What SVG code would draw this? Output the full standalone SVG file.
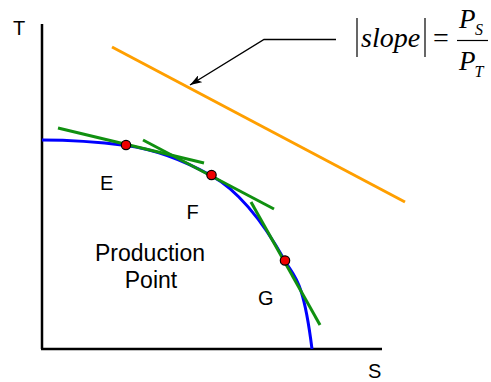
<svg xmlns="http://www.w3.org/2000/svg" width="491" height="382" viewBox="0 0 491 382">
<style>
.lbl{font-family:"Liberation Sans",Arial,sans-serif;font-size:20px;fill:#000}
.big{font-family:"Liberation Sans",Arial,sans-serif;font-size:23px;fill:#000}
.m{font-family:"Liberation Serif","Times New Roman",serif;font-style:italic;fill:#000}
.tan{stroke:#109010;stroke-width:3;fill:none}
.dot{fill:#ee0000;stroke:#000;stroke-width:1.2}
</style>
<defs>
<marker id="ah" viewBox="0 0 12 8" refX="12" refY="4" markerWidth="12" markerHeight="8" markerUnits="userSpaceOnUse" orient="auto">
<path d="M0,0 L12,4 L0,8 L3,4 Z" fill="#000"/>
</marker>
</defs>
<g id="axes">
<line x1="42" y1="24" x2="42" y2="349" stroke="#000" stroke-width="2.5"/>
<line x1="41" y1="349" x2="382" y2="349" stroke="#000" stroke-width="2.5"/>
<text class="lbl" x="13" y="35">T</text>
<text class="lbl" x="368" y="378">S</text>
</g>
<g id="budget-line">
<line x1="112" y1="47" x2="405" y2="202" stroke="#ff9f00" stroke-width="3"/>
</g>
<g id="frontier">
<path d="M42,140 C70,140 98,141.9 126,145.5 C154.3,149.2 182.7,159.9 211,175.5 C235.7,189.1 260.3,216.6 285,261 C294,277.2 303,277 312,349" fill="none" stroke="#0000ff" stroke-width="3"/>
</g>
<g id="connectors">
<line class="tan" x1="58" y1="128" x2="204" y2="163"/>
<line class="tan" x1="143" y1="140" x2="274" y2="209"/>
<line class="tan" x1="251" y1="202" x2="320" y2="325"/>
<polyline points="336,39.5 264,39.5 190,85" fill="none" stroke="#000" stroke-width="1.4" marker-end="url(#ah)"/>
</g>
<g id="point-E">
<circle class="dot" cx="126" cy="145" r="4.7"/>
<text class="lbl" x="100" y="189.5">E</text>
</g>
<g id="point-F">
<circle class="dot" cx="211.5" cy="175" r="4.7"/>
<text class="lbl" x="186.5" y="219">F</text>
</g>
<g id="point-G">
<circle class="dot" cx="285" cy="260.5" r="4.7"/>
<text class="lbl" x="258" y="305">G</text>
</g>
<g id="production-point">
<text class="big" x="150" y="260.5" text-anchor="middle">Production</text>
<text class="big" x="151" y="287.5" text-anchor="middle">Point</text>
</g>
<g id="equation">
<line x1="357" y1="18" x2="357" y2="57" stroke="#000" stroke-width="1.2"/>
<line x1="425" y1="18" x2="425" y2="57" stroke="#000" stroke-width="1.2"/>
<text class="m" x="361" y="47" font-size="28">slope</text>
<text x="433" y="47" font-size="28" font-family="'Liberation Serif','Times New Roman',serif">=</text>
<line x1="457" y1="40.5" x2="488" y2="40.5" stroke="#000" stroke-width="1.2"/>
<text class="m" x="459" y="28" font-size="27">P</text>
<text class="m" x="475" y="35" font-size="16">S</text>
<text class="m" x="459" y="70" font-size="27">P</text>
<text class="m" x="474.5" y="77" font-size="16">T</text>
</g>
</svg>
